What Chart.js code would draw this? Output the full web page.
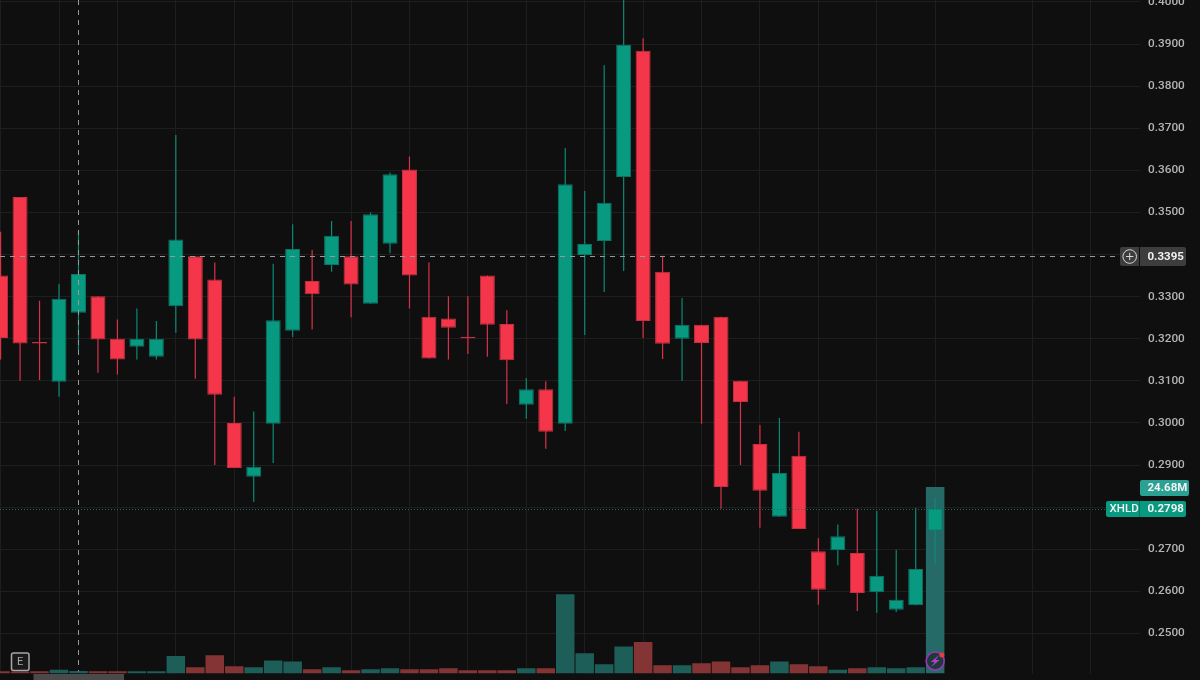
<!DOCTYPE html>
<html>
<head>
<meta charset="utf-8">
<style>
html,body{margin:0;padding:0;background:#0f0f0f;overflow:hidden}
canvas{display:block}
</style>
<script src="https://cdn.jsdelivr.net/npm/chart.js@4"></script>
</head>
<body>
<canvas id="c" width="1200" height="680" style="width:1200px;height:680px"></canvas>
<script>
const opens = [.3350,.3537,.3189,.3098,.3262,.3301,.3200,.3181,.3157,.3277,.3396,.3341,.3000,.2872,.2998,.3219,.3337,.3375,.3396,.3283,.3426,.3602,.3252,.3248,.3201,.3350,.3235,.3043,.3080,.2998,.3399,.3432,.3584,.3884,.3359,.3200,.3233,.3252,.3100,.2950,.2777,.2922,.2695,.2698,.2691,.2598,.2556,.2567,.2744];
const closes = [.3202,.3189,.3189,.3295,.3354,.3198,.3151,.3200,.3200,.3436,.3198,.3067,.2893,.2896,.3244,.3413,.3306,.3445,.3329,.3496,.3591,.3350,.3153,.3226,.3201,.3233,.3149,.3080,.2979,.3567,.3425,.3523,.3898,.3242,.3188,.3233,.3190,.2848,.3050,.2839,.2881,.2748,.2604,.2731,.2596,.2637,.2580,.2653,.2798];
const highs = [.3454,.3537,.3290,.3330,.3456,.3301,.3246,.3272,.3242,.3684,.3396,.3381,.3062,.3027,.3378,.3472,.3411,.3480,.3480,.3500,.3595,.3633,.3381,.3301,.3301,.3350,.3268,.3107,.3099,.3653,.3551,.3850,.4005,.3914,.3397,.3297,.3233,.3252,.3100,.2995,.3012,.2979,.2726,.2759,.2796,.2791,.2699,.2798,.2821];
const lows = [.3151,.3100,.3102,.3062,.3172,.3119,.3115,.3151,.3151,.3214,.3105,.2900,.2893,.2812,.2905,.3204,.3222,.3359,.3251,.3283,.3403,.3272,.3153,.3151,.3164,.3157,.3045,.3010,.2939,.2981,.3209,.3311,.3361,.3202,.3152,.3100,.2998,.2796,.2900,.2751,.2777,.2748,.2568,.2662,.2553,.2549,.2551,.2567,.2666];
const volumes = [.30,.26,.30,.48,.34,.30,.30,.30,.30,2.33,.83,2.42,.97,.83,1.72,1.59,.57,.83,.44,.57,.70,.57,.57,.70,.44,.44,.44,.70,.70,10.49,2.69,1.23,3.57,4.18,1.10,1.10,1.36,1.59,.83,1.10,1.59,1.23,.97,.48,.70,.83,.70,.83,24.68];
const gridIndices = [0,3,6,9,12,15,18,21,24,27,30,33,36,39,42,45,48,53,56];
const crosshairIndex = 4;
const crosshairPrice = 0.3395;
const lastPrice = 0.2798;
const lastVolume = "24.68";
const symbol = "XHLD";

const UP='#089981', DOWN='#f5364a';
const isUp=i=>closes[i]>=opens[i] && !(opens[i]===closes[i]);
const idx=opens.map((_,i)=>i);
const FONT='Roboto, sans-serif';

const overlay={
  id:'overlay',
  afterDatasetsDraw(chart){
    const c=chart.ctx, x=chart.scales.x, y=chart.scales.y, A=chart.chartArea;
    c.save();
    // last price dotted line
    const ly=Math.round(y.getPixelForValue(lastPrice))+1.5;
    c.strokeStyle='#1d6a5d'; c.lineWidth=1; c.setLineDash([1,2]);
    c.beginPath(); c.moveTo(0,ly); c.lineTo(1106,ly); c.stroke();
    // crosshair
    const cx=Math.round(x.getPixelForValue(crosshairIndex))+0.5;
    const cy=Math.round(y.getPixelForValue(crosshairPrice))-0.5;
    c.strokeStyle='#9a9a9a'; c.setLineDash([5,5]);
    c.beginPath(); c.moveTo(cx,0); c.lineTo(cx,A.bottom-2); c.stroke();
    c.beginPath(); c.moveTo(0,cy); c.lineTo(1120,cy); c.stroke();
    c.setLineDash([]);
    c.textBaseline='middle';
    // crosshair price box
    c.fillStyle='#3d3d3d'; c.beginPath(); c.roundRect(1120,247,66,19,2); c.fill();
    c.fillStyle='#0f0f0f'; c.fillRect(1139,247,1,19);
    c.strokeStyle='#d8d8d8'; c.lineWidth=1;
    c.beginPath(); c.arc(1129.7,256.5,6.8,0,Math.PI*2); c.stroke();
    c.beginPath(); c.moveTo(1126,256.5); c.lineTo(1133.4,256.5); c.moveTo(1129.7,252.8); c.lineTo(1129.7,260.2); c.stroke();
    c.fillStyle='#f0f0f0'; c.font='bold 11.5px '+FONT; c.textAlign='left';
    c.fillText(crosshairPrice.toFixed(4),1147.5,257.5);
    // volume label
    c.fillStyle='#2aa193'; c.beginPath(); c.roundRect(1140,480,49,16,2); c.fill();
    c.fillStyle='#f2f2f2'; c.font='bold 11.5px '+FONT;
    c.fillText(lastVolume+'M',1147.5,488.5);
    // symbol / last price box
    c.fillStyle=UP; c.beginPath(); c.roundRect(1106,501,80,16,2); c.fill();
    c.fillStyle='#0b6f5f'; c.fillRect(1139,501,1,16);
    c.fillStyle='#f2f2f2'; c.font='500 11.5px '+FONT;
    c.fillText(symbol,1109.5,509.5);
    c.font='bold 11.5px '+FONT;
    c.fillText(lastPrice.toFixed(4),1147.5,509.5);
    // earnings badge
    c.strokeStyle='#a8a8a8'; c.lineWidth=1.5;
    c.fillStyle='#1a1a1a'; c.beginPath(); c.roundRect(11.5,653,17.5,17.5,2); c.fill(); c.stroke();
    c.fillStyle='#a8a8a8'; c.font='11px '+FONT; c.textAlign='center';
    c.fillText('E',20.2,662.5);
    // scroll thumb
    c.fillStyle='#4a4a4a'; c.fillRect(33.5,674,90.5,6);
    // lightning icon
    const ix=x.getPixelForValue(idx.length-1), iy=661;
    c.strokeStyle='#a034b8'; c.lineWidth=1.6;
    c.fillStyle='#1c3a3a'; c.beginPath(); c.arc(ix,iy,9,0,Math.PI*2); c.fill(); c.stroke();
    c.fillStyle='#b040cc'; c.beginPath();
    c.moveTo(ix+4,iy-6); c.lineTo(ix-4.5,iy+1); c.lineTo(ix-0.5,iy+1); c.lineTo(ix-4,iy+6);
    c.lineTo(ix+4.5,iy-1); c.lineTo(ix+0.5,iy-1); c.closePath(); c.fill();
    c.fillStyle='#f23645'; c.beginPath(); c.arc(ix+6.7,iy-6,2.5,0,Math.PI*2); c.fill();
    c.restore();
  }
};

new Chart(document.getElementById('c'),{
  type:'bar',
  data:{datasets:[
    {label:'Body',order:1,yAxisID:'y',grouped:false,barThickness:15,minBarLength:1.5,inflateAmount:0,
     borderSkipped:false,borderWidth:1,
     data:idx.map(i=>({x:i,y:[opens[i],closes[i]]})),
     backgroundColor:idx.map(i=>isUp(i)?UP:DOWN),
     borderColor:idx.map(i=>isUp(i)?'#0b7565':'#c8303f')},
    {label:'Wick',order:2,yAxisID:'y',grouped:false,barThickness:1.2,inflateAmount:0,
     borderWidth:0,
     data:idx.map(i=>({x:i,y:[lows[i],highs[i]]})),
     backgroundColor:idx.map(i=>isUp(i)?'#0a8a75':'#d8324a')},
    {label:'Volume',order:3,yAxisID:'v',grouped:false,barThickness:18.5,inflateAmount:0,
     borderWidth:0,
     data:idx.map(i=>({x:i,y:volumes[i]})),
     backgroundColor:idx.map(i=>i===idx.length-1?'#256a66':(isUp(i)?'#1d5f58':'#843434'))}
  ]},
  options:{
    responsive:false,animation:false,devicePixelRatio:1,
    layout:{padding:0},
    plugins:{legend:{display:false},tooltip:{enabled:false},title:{display:false}},
    scales:{
      x:{type:'linear',min:-0.0308,max:58.52,offset:false,
         grid:{color:'#1e1e1e',drawTicks:false,offset:false},border:{display:false},
         ticks:{display:false,autoSkip:false},
         afterBuildTicks:s=>{s.ticks=gridIndices.map(v=>({value:v}));},
         afterFit:s=>{s.height=6.5;s.paddingLeft=0;s.paddingRight=0;}},
      y:{type:'linear',position:'right',min:0.24048,max:0.400475,
         grid:{color:'#1e1e1e',drawTicks:false},border:{display:false},
         ticks:{stepSize:0.01,includeBounds:false,padding:8,color:'#b4b4b4',
                font:{family:FONT,size:11.8,weight:'500'},align:'center',autoSkip:false,
                callback:v=>Number(v).toFixed(4)},
         afterFit:s=>{s.width=60;s.paddingTop=0;s.paddingBottom=0;}},
      v:{type:'linear',display:false,min:0,max:89.12}
    }
  },
  plugins:[overlay]
});
</script>
</body>
</html>
